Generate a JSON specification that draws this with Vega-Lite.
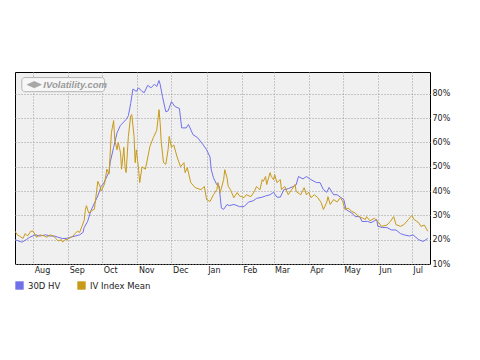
{
 "$schema": "https://vega.github.io/schema/vega-lite/v6.json",
 "width": 415, "height": 192,
 "autosize": {"type": "none"},
 "padding": {"left": 15, "top": 72, "right": 50, "bottom": 96},
 "background": "white",
 "config": {
  "font": "DejaVu Sans",
  "view": {"stroke": "#000", "strokeWidth": 1, "fill": "#f0f0f0"},
  "axis": {"labelFont": "DejaVu Sans", "labelFontSize": 8, "labelColor": "#222", "gridColor": "#9a9a9a", "gridDash": [1, 2], "gridWidth": 1, "domain": false, "ticks": false, "title": null},
  "axisX": {"format": "%b", "tickCount": {"interval": "month", "step": 1}, "labelAlign": "left", "labelBaseline": "top", "labelPadding": 2, "labelOffset": 1, "labelFlush": false, "labelOverlap": false, "grid": true},
  "axisY": {"labelAlign": "left", "labelBaseline": "middle", "labelPadding": 2, "labelOffset": 0, "labelOverlap": false, "grid": true}
 },
 "datasets": {
  "hv": [
   {"d":"2008-07-16","v":20},{"d":"2008-07-19","v":19.5},{"d":"2008-07-22","v":19},{"d":"2008-07-26","v":20},{"d":"2008-07-29","v":21},
   {"d":"2008-08-03","v":22},{"d":"2008-08-07","v":21.5},{"d":"2008-08-12","v":22},{"d":"2008-08-16","v":21.5},{"d":"2008-08-20","v":21.5},{"d":"2008-08-23","v":21},{"d":"2008-08-27","v":20.5},{"d":"2008-08-30","v":20.5},
   {"d":"2008-09-03","v":21},{"d":"2008-09-07","v":21.5},{"d":"2008-09-11","v":22},{"d":"2008-09-14","v":23},{"d":"2008-09-15","v":25},{"d":"2008-09-18","v":27.5},{"d":"2008-09-21","v":32},{"d":"2008-09-24","v":35},{"d":"2008-09-27","v":38},{"d":"2008-09-30","v":42},
   {"d":"2008-10-02","v":43},{"d":"2008-10-04","v":45},{"d":"2008-10-07","v":48},{"d":"2008-10-08","v":52},{"d":"2008-10-11","v":58},{"d":"2008-10-14","v":64},{"d":"2008-10-17","v":67},{"d":"2008-10-22","v":69.5},{"d":"2008-10-24","v":71},{"d":"2008-10-26","v":76},{"d":"2008-10-28","v":82},{"d":"2008-10-31","v":81},
   {"d":"2008-11-02","v":82.5},{"d":"2008-11-05","v":81},{"d":"2008-11-07","v":80.5},{"d":"2008-11-10","v":83.5},{"d":"2008-11-13","v":82.5},{"d":"2008-11-16","v":84},{"d":"2008-11-18","v":83},{"d":"2008-11-20","v":85.5},{"d":"2008-11-21","v":84},{"d":"2008-11-23","v":79},{"d":"2008-11-26","v":72.7},{"d":"2008-11-28","v":73},
   {"d":"2008-12-01","v":76.8},{"d":"2008-12-04","v":74.8},{"d":"2008-12-08","v":74},{"d":"2008-12-10","v":66},{"d":"2008-12-14","v":66},{"d":"2008-12-16","v":67.4},{"d":"2008-12-20","v":63.2},{"d":"2008-12-24","v":62},{"d":"2008-12-29","v":59},
   {"d":"2009-01-01","v":57},{"d":"2009-01-04","v":54},{"d":"2009-01-05","v":49},{"d":"2009-01-07","v":45.5},{"d":"2009-01-10","v":42.6},{"d":"2009-01-12","v":42},{"d":"2009-01-14","v":33},{"d":"2009-01-16","v":32.5},{"d":"2009-01-19","v":34.5},{"d":"2009-01-21","v":34},{"d":"2009-01-25","v":34.5},{"d":"2009-01-28","v":34},{"d":"2009-01-30","v":33.6},
   {"d":"2009-02-03","v":33.6},{"d":"2009-02-07","v":35.5},{"d":"2009-02-11","v":36},{"d":"2009-02-14","v":37},{"d":"2009-02-19","v":37.5},{"d":"2009-02-22","v":38},{"d":"2009-02-26","v":38.5},
   {"d":"2009-03-01","v":39.5},{"d":"2009-03-04","v":37.5},{"d":"2009-03-07","v":37.5},{"d":"2009-03-10","v":40.5},{"d":"2009-03-14","v":41},{"d":"2009-03-19","v":42},{"d":"2009-03-21","v":42.6},{"d":"2009-03-23","v":46},{"d":"2009-03-27","v":45},{"d":"2009-03-30","v":46},
   {"d":"2009-04-03","v":44.7},{"d":"2009-04-08","v":43.5},{"d":"2009-04-11","v":43.5},{"d":"2009-04-14","v":40.6},{"d":"2009-04-17","v":39.5},{"d":"2009-04-19","v":41.5},{"d":"2009-04-23","v":38.5},{"d":"2009-04-26","v":38.5},{"d":"2009-04-29","v":37.5},
   {"d":"2009-05-02","v":36.5},{"d":"2009-05-04","v":32.4},{"d":"2009-05-09","v":31},{"d":"2009-05-12","v":29.5},{"d":"2009-05-16","v":29.5},{"d":"2009-05-18","v":27.5},{"d":"2009-05-23","v":27.5},{"d":"2009-05-26","v":27},{"d":"2009-05-31","v":28.3},
   {"d":"2009-06-01","v":25.5},{"d":"2009-06-05","v":25},{"d":"2009-06-09","v":25},{"d":"2009-06-13","v":24},{"d":"2009-06-17","v":24},{"d":"2009-06-21","v":22.5},{"d":"2009-06-24","v":22},{"d":"2009-06-29","v":21.5},
   {"d":"2009-07-02","v":22},{"d":"2009-07-07","v":20},{"d":"2009-07-11","v":19.3},{"d":"2009-07-15","v":20.5}
  ],
  "iv": [
   {"d":"2008-07-16","v":23.5},{"d":"2008-07-18","v":22},{"d":"2008-07-20","v":21.5},{"d":"2008-07-23","v":20.5},{"d":"2008-07-25","v":22.5},{"d":"2008-07-27","v":21.5},{"d":"2008-07-30","v":23.5},
   {"d":"2008-08-01","v":23.5},{"d":"2008-08-04","v":21},{"d":"2008-08-07","v":22},{"d":"2008-08-11","v":21.5},{"d":"2008-08-13","v":21},{"d":"2008-08-16","v":22},{"d":"2008-08-19","v":21.5},{"d":"2008-08-21","v":20.5},{"d":"2008-08-23","v":19.5},{"d":"2008-08-26","v":20},{"d":"2008-08-27","v":19},{"d":"2008-08-29","v":20},{"d":"2008-08-31","v":20},
   {"d":"2008-09-03","v":21},{"d":"2008-09-04","v":21},{"d":"2008-09-07","v":22.5},{"d":"2008-09-09","v":23.5},{"d":"2008-09-11","v":23},{"d":"2008-09-13","v":25.5},{"d":"2008-09-15","v":28},{"d":"2008-09-16","v":32},{"d":"2008-09-17","v":34},{"d":"2008-09-19","v":31},{"d":"2008-09-22","v":32},{"d":"2008-09-24","v":32.5},{"d":"2008-09-26","v":40},{"d":"2008-09-27","v":44},{"d":"2008-09-29","v":42},{"d":"2008-09-30","v":40},
   {"d":"2008-10-03","v":43},{"d":"2008-10-05","v":49},{"d":"2008-10-07","v":47},{"d":"2008-10-08","v":56},{"d":"2008-10-09","v":64},{"d":"2008-10-11","v":69},{"d":"2008-10-12","v":61},{"d":"2008-10-14","v":57},{"d":"2008-10-15","v":60},{"d":"2008-10-17","v":56},{"d":"2008-10-18","v":49},{"d":"2008-10-20","v":58},{"d":"2008-10-21","v":50},{"d":"2008-10-22","v":47.6},{"d":"2008-10-24","v":62.5},{"d":"2008-10-26","v":70.8},{"d":"2008-10-27","v":71.5},{"d":"2008-10-29","v":62.5},{"d":"2008-10-30","v":51.7},{"d":"2008-10-31","v":57},
   {"d":"2008-11-02","v":49},{"d":"2008-11-03","v":43.5},{"d":"2008-11-05","v":50},{"d":"2008-11-08","v":49},{"d":"2008-11-11","v":56},{"d":"2008-11-12","v":58.4},{"d":"2008-11-15","v":62},{"d":"2008-11-18","v":65},{"d":"2008-11-20","v":73.5},{"d":"2008-11-21","v":68},{"d":"2008-11-22","v":60},{"d":"2008-11-24","v":51.7},{"d":"2008-11-26","v":51},{"d":"2008-11-28","v":57},{"d":"2008-11-29","v":62.5},
   {"d":"2008-12-01","v":58},{"d":"2008-12-03","v":59},{"d":"2008-12-06","v":54},{"d":"2008-12-09","v":50},{"d":"2008-12-12","v":51.7},{"d":"2008-12-13","v":47.6},{"d":"2008-12-15","v":49.6},{"d":"2008-12-18","v":43.5},{"d":"2008-12-22","v":41.4},{"d":"2008-12-27","v":40.6},{"d":"2008-12-30","v":41.9},
   {"d":"2009-01-01","v":36.5},{"d":"2009-01-04","v":35.7},{"d":"2009-01-07","v":38.5},{"d":"2009-01-10","v":40.6},{"d":"2009-01-11","v":43.5},{"d":"2009-01-13","v":39.4},{"d":"2009-01-16","v":44.7},{"d":"2009-01-17","v":48.8},{"d":"2009-01-19","v":45.5},{"d":"2009-01-20","v":42},{"d":"2009-01-22","v":40.6},{"d":"2009-01-25","v":37.3},{"d":"2009-01-28","v":39.4},{"d":"2009-01-30","v":38},
   {"d":"2009-02-03","v":37.3},{"d":"2009-02-05","v":38.5},{"d":"2009-02-09","v":37.7},{"d":"2009-02-12","v":39.8},{"d":"2009-02-14","v":41.9},{"d":"2009-02-17","v":40.5},{"d":"2009-02-19","v":44.7},{"d":"2009-02-20","v":44},{"d":"2009-02-22","v":46},{"d":"2009-02-23","v":42.7},{"d":"2009-02-26","v":47.6},{"d":"2009-02-27","v":46},
   {"d":"2009-03-01","v":44.7},{"d":"2009-03-02","v":46.8},{"d":"2009-03-04","v":43.5},{"d":"2009-03-07","v":44.7},{"d":"2009-03-08","v":40.6},{"d":"2009-03-11","v":41.9},{"d":"2009-03-14","v":38.5},{"d":"2009-03-17","v":40.6},{"d":"2009-03-20","v":42.7},{"d":"2009-03-21","v":39.8},{"d":"2009-03-25","v":38.5},{"d":"2009-03-28","v":41.4},{"d":"2009-03-30","v":38.5},
   {"d":"2009-04-01","v":39.5},{"d":"2009-04-03","v":37.3},{"d":"2009-04-06","v":38.5},{"d":"2009-04-09","v":37.3},{"d":"2009-04-12","v":35.3},{"d":"2009-04-14","v":32.4},{"d":"2009-04-17","v":35.5},{"d":"2009-04-18","v":37.7},{"d":"2009-04-20","v":34.5},{"d":"2009-04-23","v":36.5},{"d":"2009-04-26","v":35.5},{"d":"2009-04-29","v":37.3},
   {"d":"2009-05-01","v":35.8},{"d":"2009-05-03","v":32.4},{"d":"2009-05-06","v":33},{"d":"2009-05-09","v":31.6},{"d":"2009-05-12","v":31},{"d":"2009-05-15","v":29.5},{"d":"2009-05-18","v":29},{"d":"2009-05-21","v":28.3},{"d":"2009-05-22","v":29.5},{"d":"2009-05-25","v":27.8},{"d":"2009-05-29","v":28.8},
   {"d":"2009-06-02","v":27},{"d":"2009-06-04","v":25.5},{"d":"2009-06-09","v":26},{"d":"2009-06-12","v":27.5},{"d":"2009-06-15","v":29.5},{"d":"2009-06-17","v":26.2},{"d":"2009-06-21","v":25.5},{"d":"2009-06-24","v":26.2},{"d":"2009-06-28","v":28.3},
   {"d":"2009-07-01","v":30},{"d":"2009-07-03","v":28.3},{"d":"2009-07-07","v":27},{"d":"2009-07-09","v":25.5},{"d":"2009-07-12","v":26},{"d":"2009-07-15","v":23.5}
  ]
 },
 "layer": [
  {
   "data": {"name": "hv"},
   "mark": {"type": "line", "strokeWidth": 1, "clip": true},
   "encoding": {
    "x": {"field": "d", "type": "temporal",
      "scale": {"type": "utc", "domain": [{"year": 2008, "month": 7, "date": 16, "utc": true}, {"year": 2009, "month": 7, "date": 17, "utc": true}]},
      "axis": {"orient": "bottom"}},
    "y": {"field": "v", "type": "quantitative",
      "scale": {"domain": [10, 89], "nice": false, "zero": false},
      "axis": {"orient": "right", "values": [10, 20, 30, 40, 50, 60, 70, 80], "labelExpr": "datum.value + '%'"}},
    "color": {"datum": "30D HV", "type": "nominal",
      "scale": {"domain": ["30D HV", "IV Index Mean"], "range": ["#7070ea", "#c89a18"]},
      "legend": {"orient": "none", "legendX": 0, "legendY": 209, "direction": "horizontal", "title": null, "symbolType": "square", "symbolSize": 70, "labelFontSize": 8.5, "labelFont": "DejaVu Sans", "labelColor": "#222", "columnPadding": 16, "labelOffset": 4, "padding": 0, "symbolStrokeWidth": 0,
        "encode": {"symbols": {"update": {"fill": {"scale": "color", "field": "value"}, "opacity": {"value": 1}}}}}}
   }
  },
  {
   "data": {"name": "iv"},
   "mark": {"type": "line", "strokeWidth": 1, "clip": true},
   "encoding": {
    "x": {"field": "d", "type": "temporal", "axis": {"orient": "bottom"}},
    "y": {"field": "v", "type": "quantitative", "axis": {"orient": "right", "values": [10, 20, 30, 40, 50, 60, 70, 80], "labelExpr": "datum.value + '%'"}},
    "color": {"datum": "IV Index Mean", "type": "nominal"}
   }
  },
  {
   "data": {"values": [{"t": "IVolatility.com"}]},
   "mark": {"type": "rect", "fill": "#f6f6f6", "stroke": "#b4b4b4", "strokeWidth": 1, "cornerRadius": 3},
   "encoding": {
    "x": {"datum": {"year": 2008, "month": 7, "date": 22, "utc": true}, "type": "temporal", "axis": {"orient": "bottom"}},
    "x2": {"datum": {"year": 2008, "month": 10, "date": 3, "utc": true}},
    "y": {"datum": 86.7, "type": "quantitative", "axis": {"orient": "right", "values": [10, 20, 30, 40, 50, 60, 70, 80], "labelExpr": "datum.value + '%'"}},
    "y2": {"datum": 80.9}
   }
  },
  {
   "data": {"values": [{"t": "IVolatility.com"}]},
   "mark": {"type": "point", "shape": "M-1,0L0,-0.45L1,0L0,0.45Z", "filled": true, "fill": "#a8a8a8", "stroke": "#909090", "strokeWidth": 0.5, "size": 200, "opacity": 1},
   "encoding": {
    "x": {"datum": {"year": 2008, "month": 8, "date": 2, "utc": true}, "type": "temporal", "axis": {"orient": "bottom"}},
    "y": {"datum": 83.8, "type": "quantitative", "axis": {"orient": "right", "values": [10, 20, 30, 40, 50, 60, 70, 80], "labelExpr": "datum.value + '%'"}}
   }
  },
  {
   "data": {"values": [{"t": "IVolatility.com"}]},
   "mark": {"type": "text", "align": "left", "baseline": "middle", "font": "Liberation Sans", "fontStyle": "italic", "fontWeight": "bold", "fontSize": 9.5, "color": "#9a9a9a"},
   "encoding": {
    "x": {"datum": {"year": 2008, "month": 8, "date": 10, "utc": true}, "type": "temporal", "axis": {"orient": "bottom"}},
    "y": {"datum": 83.8, "type": "quantitative", "axis": {"orient": "right", "values": [10, 20, 30, 40, 50, 60, 70, 80], "labelExpr": "datum.value + '%'"}},
    "text": {"field": "t"}
   }
  }
 ]
}
